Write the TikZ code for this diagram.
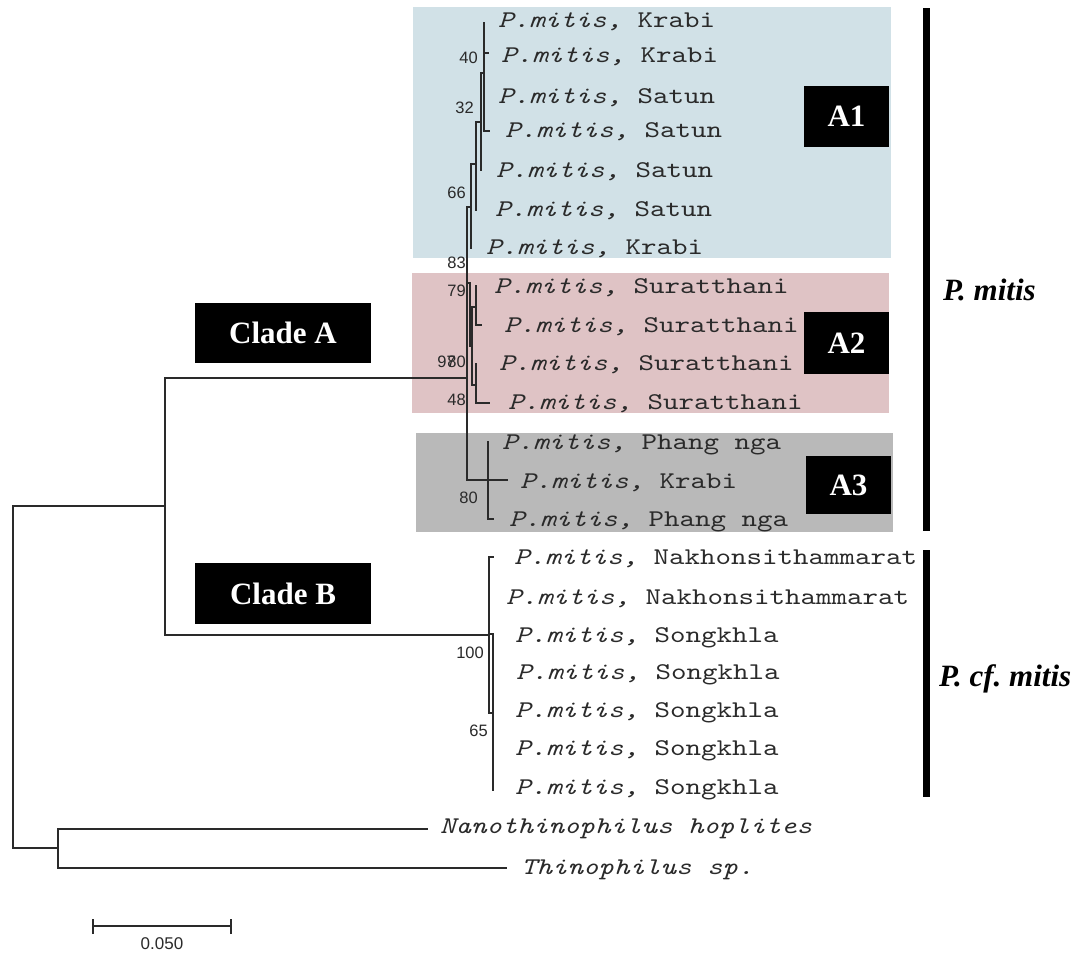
\documentclass[tikz,border=0pt]{standalone}
\usepackage{fontspec}
\setmainfont{Liberation Serif}
\newfontfamily\taxonfont{lmmono10}[Extension=.otf, UprightFont=*-regular, ItalicFont=*-italic, FakeStretch=1.23]
\newfontfamily\supportfont{Liberation Sans}
\definecolor{treeink}{HTML}{2A2A2A}
\definecolor{groupAone}{HTML}{D1E1E7}
\definecolor{groupAtwo}{HTML}{DFC3C5}
\definecolor{groupAthree}{HTML}{B9B9B9}
\newcommand{\mitislabel}[1]{\textit{P.mitis,} #1}

\begin{document}
\begin{tikzpicture}[x=1pt, y=-1pt,
  branch/.style={draw=treeink, line width=1.2pt, line cap=rect},
  taxon/.style={anchor=west, inner sep=0pt, text height=0.56em, text depth=0pt,
    yshift=-5pt, text=treeink, font=\taxonfont\fontsize{24}{24}\selectfont},
  support/.style={anchor=east, inner sep=0pt, text height=0.716em, text depth=0pt,
    yshift=-3pt, text=treeink, font=\supportfont\fontsize{16.5}{16.5}\selectfont},
  groupbg/.style={anchor=north west, inner sep=0pt, draw=none},
  tagbox/.style={fill=black, text=white, inner sep=0pt,
    font=\bfseries\fontsize{31}{31}\selectfont},
  speciesbar/.style={line width=7pt, draw=black},
  specieslabel/.style={anchor=base west, inner sep=0pt,
    font=\bfseries\itshape\fontsize{31}{31}\selectfont}]
\frenchspacing
\useasboundingbox (0,0) rectangle (1089,953);

% coloured backgrounds of the three subclades
\node[groupbg, fill=groupAone,   minimum width=478pt, minimum height=251pt] (bgAone)   at (413,7)   {};
\node[groupbg, fill=groupAtwo,   minimum width=477pt, minimum height=140pt] (bgAtwo)   at (412,273) {};
\node[groupbg, fill=groupAthree, minimum width=477pt, minimum height=99pt]  (bgAthree) at (416,433) {};

% ---------- outer tree ----------
\coordinate (rootT) at (13,506);
\coordinate (rootB) at (13,848);
\coordinate (ab)    at (165,506);
\coordinate (og)    at (58,848);
\coordinate (cladeA) at (467,378);
\coordinate (cladeB) at (489,635);
\coordinate (tipNano)  at (427,829);
\coordinate (tipThino) at (506,868);
\draw[branch] (ab) -- (rootT) -- (rootB) -- (og);
\draw[branch] (cladeA) -| (ab) |- (cladeB);
\draw[branch] (tipNano) -| (og) |- (tipThino);

% ---------- clade A, subclade A1 ----------
\coordinate (aK1)  at (484,23);
\coordinate (aL1b) at (484,131);
\coordinate (aS2)  at (489,131);
\coordinate (aL1m) at (484,53);
\coordinate (aK2)  at (488,53);
\coordinate (aL1j) at (484,73);
\coordinate (aL2t) at (481,73);
\coordinate (aS3)  at (481,170);
\coordinate (aL2j) at (481,122);
\coordinate (aL3t) at (476,122);
\coordinate (aS4)  at (476,210);
\coordinate (aL3j) at (476,164);
\coordinate (aL4t) at (471,164);
\coordinate (aK3)  at (471,248);
\coordinate (aL4j) at (471,207);
\coordinate (aL5t) at (467,207);
\coordinate (aL5b) at (467,480);
\coordinate (aK4)  at (507,480);
\draw[branch] (aK1) -- (aL1b) -- (aS2);
\draw[branch] (aL1m) -- (aK2);
\draw[branch] (aL1j) -- (aL2t) -- (aS3);
\draw[branch] (aL2j) -- (aL3t) -- (aS4);
\draw[branch] (aL3j) -- (aL4t) -- (aK3);
\draw[branch] (aL4j) -- (aL5t) -- (aL5b) -- (aK4);

% ---------- subclade A2 ----------
\coordinate (bJ)   at (467,283);
\coordinate (bT)   at (470,283);
\coordinate (bM)   at (470,346);
\coordinate (bN)   at (472,346);
\coordinate (bUt)  at (476,307);
\coordinate (bUn)  at (472,307);
\coordinate (bLn)  at (472,385);
\coordinate (bLt)  at (476,385);
\coordinate (bS1)  at (476,286);
\coordinate (bS1b) at (476,325);
\coordinate (bS2)  at (481,325);
\coordinate (bS3)  at (476,364);
\coordinate (bS3b) at (476,403);
\coordinate (bS4)  at (489,403);
\draw[branch] (bJ) -- (bT) -- (bM) -- (bN);
\draw[branch] (bUt) -- (bUn) -- (bLn) -- (bLt);
\draw[branch] (bS1) -- (bS1b) -- (bS2);
\draw[branch] (bS3) -- (bS3b) -- (bS4);

% ---------- subclade A3 ----------
\coordinate (cP1) at (488,442);
\coordinate (cB)  at (488,519);
\coordinate (cP2) at (493,519);
\draw[branch] (cP1) -- (cB) -- (cP2);

% ---------- clade B ----------
\coordinate (dT)  at (493,557);
\coordinate (dTn) at (489,557);
\coordinate (dBn) at (489,713);
\coordinate (dB)  at (493,713);
\coordinate (eT)  at (489,634);
\coordinate (eTn) at (493,634);
\coordinate (eB)  at (493,790);
\draw[branch] (dT) -- (dTn) -- (dBn) -- (dB);
\draw[branch] (eT) -- (eTn) -- (eB);

% ---------- taxon labels ----------
\foreach \x/\y/\loc [count=\i] in {
  498/20/Krabi, 501/55/Krabi, 498/96/Satun, 505/130/Satun, 496/170/Satun,
  495/209/Satun, 486/247/Krabi, 494/286/Suratthani, 504/325/Suratthani,
  499/363/Suratthani, 508/402/Suratthani, 502/442/Phang nga, 520/481/Krabi,
  509/519/Phang nga, 514/557/Nakhonsithammarat, 506/597/Nakhonsithammarat,
  515/635/Songkhla, 516/672/Songkhla, 515/710/Songkhla, 515/748/Songkhla,
  515/787/Songkhla}
  \node[taxon] (leaf\i) at (\x,\y) {\mitislabel{\loc}};
\node[taxon] (nano)  at (440,826) {\textit{Nanothinophilus hoplites}};
\node[taxon] (thino) at (521,867) {\textit{Thinophilus sp.}};

% ---------- bootstrap values ----------
\foreach \t/\x/\y [count=\i] in {
  40/478/57, 32/474/107, 66/466/192, 83/466/262, 79/466/290, 97/456/361,
  80/466/361, 48/466/399, 80/478/497, 100/484/652, 65/488/730}
  \node[support] (bs\i) at (\x,\y) {\t};

% ---------- clade and subclade tags ----------
\node[tagbox, minimum width=176pt, minimum height=60pt] (tagA)  at (283,333)   {Clade A};
\node[tagbox, minimum width=176pt, minimum height=61pt] (tagB)  at (283,593.5) {Clade B};
\node[tagbox, minimum width=85pt,  minimum height=61pt] (tagA1) at (846.5,116.5) {A1};
\node[tagbox, minimum width=85pt,  minimum height=62pt] (tagA2) at (846.5,343) {A2};
\node[tagbox, minimum width=85pt,  minimum height=58pt] (tagA3) at (848.5,485) {A3};

% ---------- species brackets ----------
\coordinate (mitisTop) at (926.5,8);
\coordinate (mitisBot) at (926.5,531);
\coordinate (cfTop)    at (926.5,550);
\coordinate (cfBot)    at (926.5,797);
\draw[speciesbar] (mitisTop) -- (mitisBot);
\draw[speciesbar] (cfTop) -- (cfBot);
\node[specieslabel] (mitisName) at (943,300) {P. mitis};
\node[specieslabel] (cfName)    at (939,686) {P. cf. mitis};

% ---------- scale bar ----------
\coordinate (sbL) at (93,926);
\coordinate (sbR) at (231,926);
\draw[branch, line cap=butt] (sbL) -- (sbR);
\draw[branch, line cap=butt] ([yshift=-8pt]sbL) -- ([yshift=7pt]sbL);
\draw[branch, line cap=butt] ([yshift=-8pt]sbR) -- ([yshift=7pt]sbR);
\node[support, anchor=center, font=\supportfont\fontsize{17}{17}\selectfont] (sbText) at (162,943) {0.050};
\end{tikzpicture}
\end{document}
